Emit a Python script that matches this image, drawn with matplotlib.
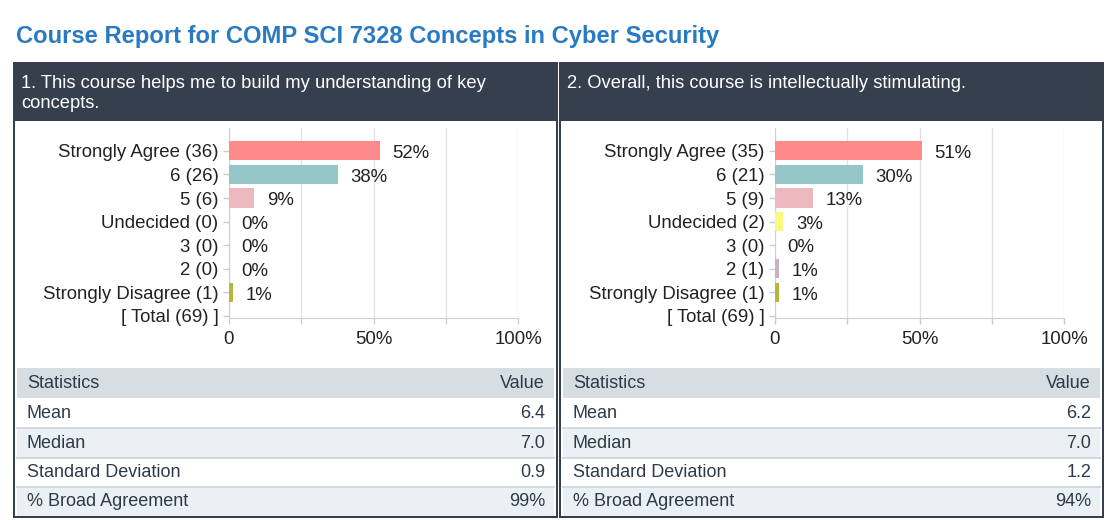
import matplotlib
matplotlib.use("Agg")
import matplotlib.pyplot as plt
from matplotlib.patches import Rectangle
from matplotlib.lines import Line2D

# ---------------- data ----------------
title = "Course Report for COMP SCI 7328 Concepts in Cyber Security"
questions = ["1. This course helps me to build my understanding of key\nconcepts.",
             "2. Overall, this course is intellectually stimulating."]
levels = ["Strongly Agree", "6", "5", "Undecided", "3", "2", "Strongly Disagree"]
counts1 = [36, 26, 6, 0, 0, 0, 1]
counts2 = [35, 21, 9, 2, 0, 1, 1]
pct1 = [52, 38, 9, 0, 0, 0, 1]
pct2 = [51, 30, 13, 3, 0, 1, 1]
totals = [69, 69]
bar_colors = ["#fe8b8b", "#94c6c8", "#ecb8bd", "#fbf97c", "#b9c9e0", "#c7b2c2", "#b8b53f"]
x_ticks = [0, 25, 50, 75, 100]
x_tick_labels = ["0", "", "50%", "", "100%"]
stat_names = ["Mean", "Median", "Standard Deviation", "% Broad Agreement"]
stat_values1 = ["6.4", "7.0", "0.9", "99%"]
stat_values2 = ["6.2", "7.0", "1.2", "94%"]

# ---------------- layout helpers ----------------
W, H = 1111, 520
DPI = 100
fig = plt.figure(figsize=(W / DPI, H / DPI), dpi=DPI)
fig.patch.set_facecolor("white")
FONT = ["Liberation Sans", "DejaVu Sans"]
PT = 72 / DPI  # points per pixel

def fx(x):
    return x / W

def fy(y):
    return 1 - y / H

def rect(x0, y0, x1, y1, **kw):
    r = Rectangle((fx(x0), fy(y1)), fx(x1) - fx(x0), fy(y0) - fy(y1),
                  transform=fig.transFigure, **kw)
    fig.patches.append(r)

def hline(x0, x1, y, color, lw):
    fig.lines.append(Line2D([fx(x0), fx(x1)], [fy(y), fy(y)], transform=fig.transFigure,
                            color=color, lw=lw * PT, zorder=2))

DARK = "#353f4d"
TXT = "#2e3a48"
LAB = "#222222"
FS_TICK = 13.4
FS_TAB = 13.0

fig.text(fx(16), fy(36), title, fontsize=17.1, fontweight="bold", color="#2a7ac3",
         family=FONT, va="center", ha="left")

panels = [
    (0, questions[0], counts1, pct1, totals[0], stat_values1),
    (546, questions[1], counts2, pct2, totals[1], stat_values2),
]

for dx, q, counts, pcts, total, svals in panels:
    # panel frame and header
    rect(14 + dx, 63, 557 + dx, 517, facecolor="white", edgecolor=DARK, lw=2 * PT, zorder=0)
    rect(14 + dx, 63, 557 + dx, 120, facecolor=DARK, edgecolor=DARK, lw=1 * PT, zorder=1)
    fig.text(fx(21 + dx), fy(75), q, fontsize=13.2, color="white", family=FONT,
             va="top", ha="left", linespacing=1.2)

    # bar chart
    ax = fig.add_axes([fx(229 + dx), fy(318), fx(518 + dx) - fx(229 + dx), fy(128) - fy(318)])
    ax.set_zorder(5)
    ypos = list(range(len(levels)))
    vals = [c / total * 100 for c in counts]
    ax.barh(ypos, vals, height=0.81, color=bar_colors, zorder=3)
    for yv, v, p in zip(ypos, vals, pcts):
        ax.annotate(f"{p}%", (v, yv), xytext=(9, -2), textcoords="offset points",
                    va="center", ha="left", fontsize=FS_TICK, color=LAB, family=FONT)
    ylabels = [f"{lv} ({c})" for lv, c in zip(levels, counts)] + [f"[ Total ({total}) ]"]
    ax.set_yticks(list(range(len(ylabels))))
    ax.set_yticklabels(ylabels, fontsize=FS_TICK, color=LAB, family=FONT)
    ax.set_ylim(7.09, -0.97)
    ax.set_xlim(0, 100)
    ax.set_xticks(x_ticks)
    ax.set_xticklabels(x_tick_labels, fontsize=FS_TICK, color=LAB, family=FONT)
    ax.tick_params(axis="y", length=4, width=1, color="#cccccc", pad=3.5)
    ax.tick_params(axis="x", length=4, width=1, color="#cccccc", pad=5)
    ax.grid(axis="x", color="#e3e3e3", lw=1, zorder=0)
    for s in ["top", "right"]:
        ax.spines[s].set_visible(False)
    ax.spines["left"].set_color("#cfcfcf")
    ax.spines["bottom"].set_color("#d0d0d0")
    ax.set_facecolor("none")

    # statistics table
    tx0, tx1 = 17 + dx, 554 + dx
    rect(tx0, 368, tx1, 398, facecolor="#d6dde3", edgecolor="none", zorder=1)
    row_edges = [398, 428, 457.5, 487, 516]
    row_fills = ["white", "#ebf0f4", "white", "#ebf0f4"]
    for i in range(4):
        rect(tx0, row_edges[i], tx1, row_edges[i + 1], facecolor=row_fills[i],
             edgecolor="none", zorder=1)
    for yl in row_edges[1:-1]:
        hline(tx0, tx1, yl, "#d3d9df", 2)
    fig.text(fx(27 + dx), fy(384), "Statistics", fontsize=FS_TAB, color=TXT, family=FONT,
             va="center", ha="left")
    fig.text(fx(545 + dx), fy(384), "Value", fontsize=FS_TAB, color=TXT, family=FONT,
             va="center", ha="right")
    for i, (nm, vv) in enumerate(zip(stat_names, svals)):
        yc = (row_edges[i] + row_edges[i + 1]) / 2 + 0.5
        fig.text(fx(27 + dx), fy(yc), nm, fontsize=FS_TAB, color=TXT, family=FONT,
                 va="center", ha="left")
        fig.text(fx(545 + dx), fy(yc), vv, fontsize=FS_TAB, color=TXT, family=FONT,
                 va="center", ha="right")

fig.savefig("out.png", dpi=DPI)
